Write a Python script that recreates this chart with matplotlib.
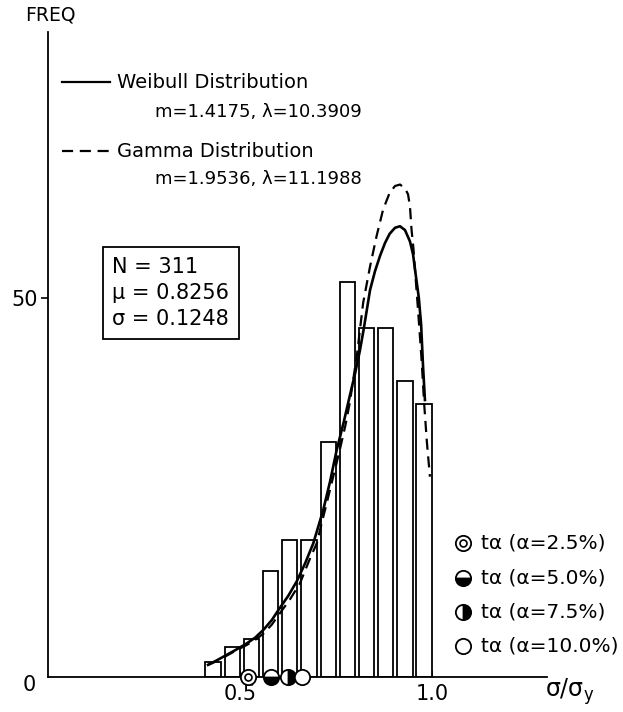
import matplotlib
matplotlib.use("Agg")
import matplotlib.pyplot as plt

# histogram: upper edge of each bin and its count
bin_upper = [0.45, 0.50, 0.55, 0.60, 0.65, 0.70, 0.75, 0.80, 0.85, 0.90, 0.95, 1.00]
counts = [2, 4, 5, 14, 18, 18, 31, 52, 46, 46, 39, 36]

# fitted curves
weib_x = [0.417, 0.44, 0.465, 0.49, 0.517, 0.54, 0.561, 0.583, 0.604, 0.626,
          0.648, 0.67, 0.691, 0.717, 0.735, 0.752, 0.77, 0.786, 0.8, 0.8125,
          0.823, 0.839, 0.852, 0.865, 0.878, 0.89, 0.904, 0.917, 0.930, 0.943,
          0.951, 0.958, 0.966, 0.972, 0.977, 0.982]
weib_y = [1.6, 2.2, 2.9, 3.6, 4.4, 5.2, 6.2, 7.5, 9.1, 10.7,
          12.6, 15.0, 17.6, 22.0, 25.8, 29.9, 33.5, 37.0, 40.0, 43.0,
          46.0, 51.0, 53.5, 55.5, 57.2, 58.4, 59.2, 59.4, 58.9, 57.4,
          55.7, 53.0, 50.0, 46.5, 41.0, 36.5]
gamma_x = [0.417, 0.44, 0.465, 0.49, 0.517, 0.54, 0.561, 0.583, 0.604, 0.63,
           0.656, 0.68, 0.700, 0.726, 0.745, 0.760, 0.775, 0.786, 0.805, 0.821,
           0.839, 0.856, 0.873, 0.89, 0.904, 0.917, 0.930, 0.938, 0.943, 0.947,
           0.952, 0.956, 0.964, 0.973, 0.980, 0.987, 0.995]
gamma_y = [1.6, 2.1, 2.8, 3.5, 4.2, 4.9, 5.7, 6.9, 8.4, 10.2,
           12.3, 15.3, 17.6, 22.9, 26.8, 29.9, 33.2, 36.1, 42.5, 49.3,
           54.1, 58.1, 61.6, 63.8, 64.7, 64.9, 64.4, 63.6, 62.0, 59.0,
           56.5, 53.7, 48.4, 42.0, 36.0, 31.0, 26.4]

# t_alpha points on the axis
t_alpha = [0.521, 0.580, 0.624, 0.663]
alpha_labels = ["2.5%", "5.0%", "7.5%", "10.0%"]

fig = plt.figure(figsize=(6.23, 7.12), dpi=100)
ax = fig.add_axes([48/623, 35/712, 499/623, 645/712])
ax.set_xlim(0, 1.3)
ax.set_ylim(0, 85)
for s in ["top", "right"]:
    ax.spines[s].set_visible(False)
for s in ["left", "bottom"]:
    ax.spines[s].set_linewidth(1.3)

FS = 13.5

# bars
ax.bar([b - 0.02 for b in bin_upper], counts, width=0.04, facecolor="white",
       edgecolor="black", linewidth=1.3, zorder=2)

ax.plot(weib_x, weib_y, color="black", lw=1.9, zorder=3, solid_joinstyle="round")
ax.plot(gamma_x, gamma_y, color="black", lw=1.6, dashes=(5, 3), zorder=3)

# ticks
ax.set_xticks([0.5, 1.0])
ax.set_xticklabels(["0.5", "1.0"], fontsize=15)
ax.set_yticks([50])
ax.set_yticklabels(["50"], fontsize=15)
ax.tick_params(axis="x", direction="in", length=4, width=1.2, pad=5)
ax.tick_params(axis="y", direction="out", length=5, width=1.2, pad=2)
ax.text(-0.05, -1.0, "0", fontsize=15, ha="center", va="center")

fig.text(25/623, 1 - 15/712, "FREQ", fontsize=FS, ha="left", va="center")
ax.text(1.36, -1.9, r"$\mathregular{\sigma/\sigma_y}$", fontsize=17,
        ha="center", va="center")

# curve legend in the upper left
ax.plot([0.036, 0.161], [78.4, 78.4], color="black", lw=1.6, clip_on=False)
ax.text(0.180, 78.4, "Weibull Distribution", fontsize=FS + 0.5, va="center")
ax.text(0.279, 74.4, "m=1.4175, \u03bb=10.3909", fontsize=FS - 0.5, va="center")
ax.plot([0.036, 0.161], [69.3, 69.3], color="black", lw=1.6, dashes=(5, 3),
        clip_on=False)
ax.text(0.180, 69.3, "Gamma Distribution", fontsize=FS + 0.5, va="center")
ax.text(0.279, 65.6, "m=1.9536, \u03bb=11.1988", fontsize=FS - 0.5, va="center")

# statistics box
ax.text(0.168, 55.4, "N = 311\n\u03bc = 0.8256\n\u03c3 = 0.1248", fontsize=15,
        va="top", ha="left", linespacing=1.4,
        bbox=dict(boxstyle="square,pad=0.45", facecolor="white",
                  edgecolor="black", linewidth=1.3))

# t_alpha markers on the axis and their legend
fills = ["none", "bottom", "right", "none"]
leg_y = [17.7, 13.1, 8.6, 4.1]
for i in range(4):
    for xx, yy in [(t_alpha[i], 0), (1.081, leg_y[i])]:
        if fills[i] == "none":
            ax.plot(xx, yy, "o", ms=11, mfc="white", mec="black", mew=1.3,
                    clip_on=False, zorder=5)
        else:
            ax.plot(xx, yy, "o", ms=11, fillstyle=fills[i], mfc="black",
                    mfcalt="white", mec="black", mew=1.3, clip_on=False, zorder=5)
        if i == 0:
            ax.plot(xx, yy, "o", ms=5, mfc="white", mec="black", mew=1.2,
                    clip_on=False, zorder=6)
    ax.text(1.128, leg_y[i], "t\u03b1 (\u03b1=" + alpha_labels[i] + ")",
            fontsize=FS + 1, va="center", ha="left")

fig.savefig("out.png", dpi=100)
